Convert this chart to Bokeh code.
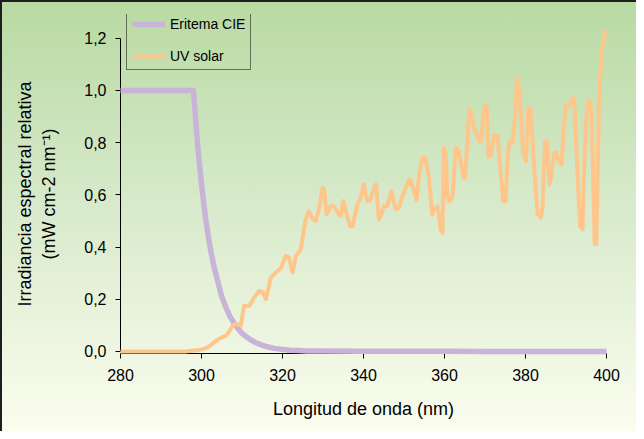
from bokeh.plotting import figure
from bokeh.models import Range1d, FixedTicker, CustomJSTickFormatter
from bokeh.embed import file_html
from bokeh.resources import INLINE

# ---- data ----
cie_nm = [280, 285, 290, 295, 298, 299, 300, 301, 302, 303, 304, 305, 306, 307,
          308, 309, 310, 311, 312, 313, 314, 315, 316, 317, 318, 319, 320, 322,
          324, 326, 328, 330, 340, 350, 360, 370, 380, 390, 400]
cie_val = [1.0, 1.0, 1.0, 1.0, 1.0, 0.80, 0.64, 0.51, 0.41, 0.33, 0.27, 0.21, 0.17,
           0.135, 0.11, 0.088, 0.07, 0.057, 0.046, 0.037, 0.03, 0.024, 0.019,
           0.015, 0.012, 0.01, 0.008, 0.005, 0.0035, 0.002, 0.0015, 0.0014,
           0.001, 0.0007, 0.0005, 0.00035, 0.00025, 0.00018, 0.00013]

uv_nm = [280, 290, 296, 297.5, 299, 300, 301.5, 302.7, 304, 305.2, 306, 307, 307.7,
         308.5, 309.7, 310.5, 311.8, 313, 314.2, 315.1, 315.9, 317.1, 318.4, 319.6,
         320.8, 321.6, 322.5, 323.3, 324.5, 325.7, 326.5, 327.4, 328.2, 329.0,
         329.9, 330.3, 330.9, 331.9, 332.7, 334.0, 334.4, 335.0, 335.6, 336.7,
         337.3, 338.5, 339.3, 340.1, 340.9, 341.7, 342.4, 343.1, 343.8, 344.3,
         345.0, 345.8, 346.9, 347.5, 348.0, 348.7, 349.5, 350.5, 351.3, 351.7,
         352.8, 353.1, 353.8, 354.6, 355.3, 356.1, 357.0, 357.4, 358.3, 359.1,
         359.5, 359.8, 360.3, 360.7, 361.2, 362.0, 362.8, 363.5, 364.7, 365.1,
         366.1, 366.5, 367.3, 368.6, 369.0, 369.6, 370.0, 370.4, 370.9, 371.4,
         372.3, 373.1, 373.9, 374.5, 375.1, 375.6, 376.0, 376.8, 377.4, 377.9,
         378.5, 378.9, 379.4, 380.1, 380.7, 381.2, 381.6, 382.2, 383.0, 383.8,
         384.2, 384.8, 385.3, 385.9, 386.3, 387.1, 387.5, 388.3, 388.9, 389.4,
         389.9, 390.8, 391.4, 392.0, 392.6, 393.1, 393.5, 394.1, 394.5, 394.9,
         395.5, 396.0, 396.4, 396.8, 397.1, 397.5, 398.0, 398.2, 398.6, 399.0,
         399.4, 400.0]
uv_val = [0.0, 0.0, 0.0, 0.003, 0.005, 0.008, 0.015, 0.03, 0.045, 0.055, 0.06, 0.08,
          0.1, 0.105, 0.1, 0.175, 0.175, 0.207, 0.232, 0.228, 0.2, 0.283, 0.303,
          0.32, 0.366, 0.36, 0.303, 0.366, 0.39, 0.506, 0.537, 0.51, 0.5, 0.545,
          0.627, 0.62, 0.525, 0.556, 0.556, 0.525, 0.52, 0.576, 0.54, 0.48, 0.48,
          0.563, 0.59, 0.64, 0.576, 0.58, 0.62, 0.64, 0.506, 0.52, 0.556, 0.556,
          0.614, 0.57, 0.545, 0.55, 0.59, 0.63, 0.66, 0.655, 0.595, 0.58, 0.684,
          0.741, 0.741, 0.67, 0.525, 0.54, 0.556, 0.462, 0.455, 0.78, 0.76, 0.595,
          0.575, 0.595, 0.78, 0.77, 0.665, 0.665, 0.926, 0.92, 0.855, 0.805, 0.805,
          0.906, 0.945, 0.94, 0.745, 0.75, 0.83, 0.826, 0.684, 0.575, 0.575, 0.741,
          0.805, 0.8, 0.894, 1.047, 1.01, 0.894, 0.767, 0.729, 0.932, 0.932, 0.843,
          0.69, 0.525, 0.513, 0.545, 0.805, 0.805, 0.64, 0.665, 0.762, 0.762,
          0.729, 0.716, 0.843, 0.94, 0.94, 0.96, 0.974, 0.767, 0.603, 0.48, 0.468,
          0.704, 0.87, 0.96, 0.96, 0.87, 0.603, 0.412, 0.412, 0.83, 1.0, 1.09,
          1.165, 1.21, 1.23]

x_ticks = [280, 300, 320, 340, 360, 380, 400]
y_ticks = [0.0, 0.2, 0.4, 0.6, 0.8, 1.0, 1.2]

series_names = ["Eritema CIE", "UV solar"]
x_title = "Longitud de onda (nm)"
pad = "\u00a0" * 4  # shifts the rotated title towards the centre of the 0..1.2 axis
y_title = ("Irradiancia espectral relativa" + pad + "\n"
           + "(mW cm-2 nm\u207b\u00b9)" + pad)

FONT = "Liberation Sans"

p = figure(width=636, height=431, output_backend="svg", toolbar_location=None,
           x_range=Range1d(280, 400), y_range=Range1d(-0.0077, 1.291),
           min_border_left=120, min_border_right=30,
           min_border_top=14, min_border_bottom=78)

p.styles = {
    "background": "linear-gradient(to bottom, #b8daa2 0%, #d6e9c9 45%, #fbfdef 100%)",
    "box-shadow": "inset 2px 2px 0 #1e1e1e",
}
p.border_fill_color = None
p.background_fill_color = None
p.outline_line_color = None
p.grid.visible = False

r1 = p.line(cie_nm, cie_val, line_color="#c8b4d9", line_width=5.5,
            legend_label=series_names[0], line_join="round")
r2 = p.line(uv_nm, uv_val, line_color="#ffc68c", line_width=4,
            legend_label=series_names[1], line_join="round")
r1.level = "overlay"
r2.level = "overlay"

for ax, ticks, dec in ((p.xaxis[0], x_ticks, 0), (p.yaxis[0], y_ticks, 1)):
    ax.ticker = FixedTicker(ticks=ticks)
    ax.formatter = CustomJSTickFormatter(
        code="return tick.toFixed(%d).replace('.', ',');" % dec)
    ax.minor_tick_line_color = None
    ax.major_tick_in = 0
    ax.major_tick_out = 5
    ax.axis_line_color = "black"
    ax.major_tick_line_color = "black"
    ax.major_label_text_font = FONT
    ax.major_label_text_font_size = "16px"
    ax.major_label_text_color = "black"
    ax.axis_label_text_font = FONT
    ax.axis_label_text_font_size = "18px"
    ax.axis_label_text_font_style = "normal"
    ax.axis_label_text_color = "black"

p.xaxis.bounds = (280, 400)
p.yaxis.bounds = (0, 1.2)
p.xaxis.axis_label = x_title
p.yaxis.axis_label = y_title
p.xaxis.major_label_standoff = 10
p.xaxis.axis_label_standoff = 15
p.yaxis.major_label_standoff = 9
p.yaxis.axis_label_standoff = 22

lg = p.legend[0]
lg.location = (6, 283)
lg.border_line_color = "black"
lg.border_line_width = 1
lg.background_fill_alpha = 0
lg.label_text_font = FONT
lg.label_text_font_size = "14px"
lg.label_text_color = "black"
lg.glyph_width = 33
lg.glyph_height = 14
lg.label_height = 14
lg.spacing = 16
lg.padding = 5
lg.label_standoff = 5
lg.margin = 0

open("out.html", "w").write(file_html(p, INLINE))
